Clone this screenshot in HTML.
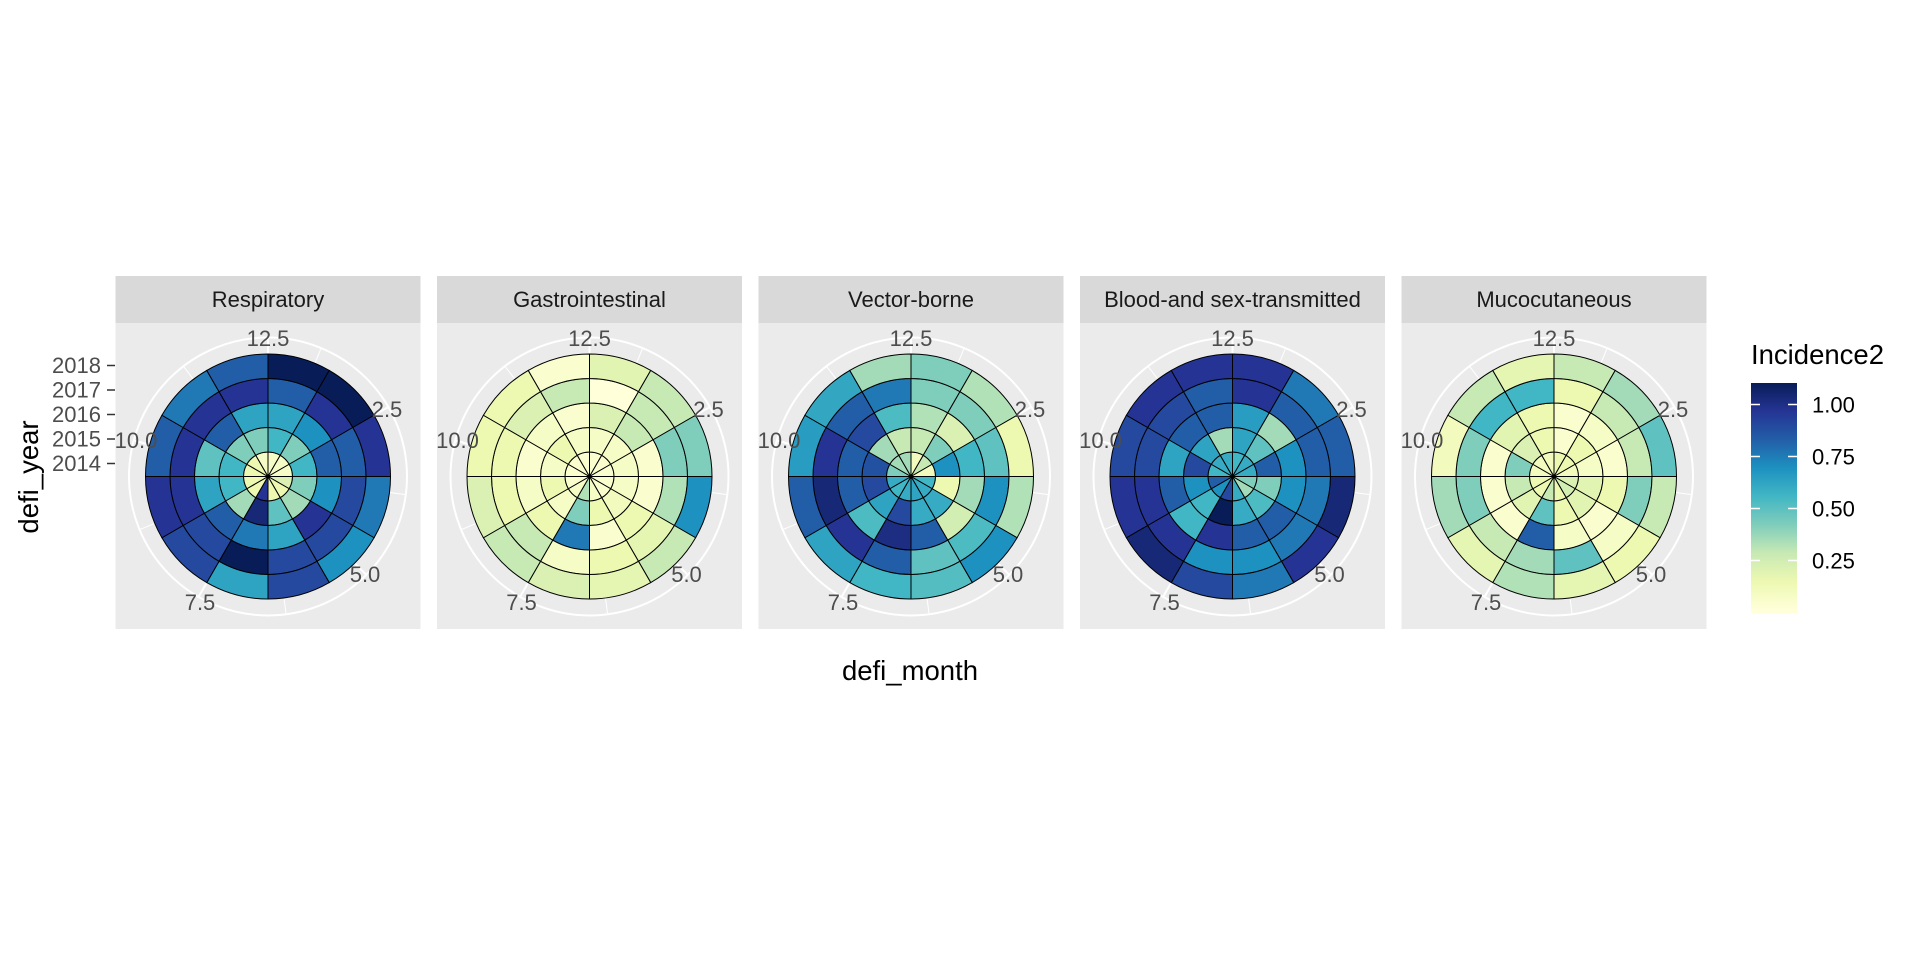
<!DOCTYPE html>
<html><head><meta charset="utf-8"><style>
html,body{margin:0;padding:0;background:#fff;}
svg{display:block;font-family:"Liberation Sans",Arial,sans-serif;}
</style></head><body>
<svg id="s" width="1920" height="960" viewBox="0 0 1920 960" xmlns="http://www.w3.org/2000/svg">
<rect width="1920" height="960" fill="#fff"/>
<g id="panels"></g>
<g font-size="22" fill="#1a1a1a" text-anchor="middle">
<text x="268" y="307">Respiratory</text>
<text x="589.5" y="307">Gastrointestinal</text>
<text x="911" y="307">Vector-borne</text>
<text x="1232.5" y="307">Blood-and sex-transmitted</text>
<text x="1554" y="307">Mucocutaneous</text>
</g>
<g id="thlabels" font-size="22" fill="#4d4d4d" text-anchor="middle"></g>
<g font-size="22" fill="#4d4d4d" text-anchor="end">
<text x="101" y="373">2018</text>
<text x="101" y="397.5">2017</text>
<text x="101" y="422">2016</text>
<text x="101" y="446.5">2015</text>
<text x="101" y="471">2014</text>
</g>
<g stroke="#333" stroke-width="1.5">
<line x1="107" x2="115" y1="365.5" y2="365.5"/><line x1="107" x2="115" y1="390" y2="390"/><line x1="107" x2="115" y1="414.5" y2="414.5"/><line x1="107" x2="115" y1="439" y2="439"/><line x1="107" x2="115" y1="463.5" y2="463.5"/>
</g>
<text x="0" y="0" font-size="27.5" fill="#000" text-anchor="middle" transform="translate(38,477) rotate(-90)">defi_year</text>
<text x="910" y="680" font-size="27.5" fill="#000" text-anchor="middle">defi_month</text>
<text x="1751" y="364" font-size="27.5" fill="#000">Incidence2</text>
<defs><linearGradient id="lg" x1="0" y1="1" x2="0" y2="0" id2="x"></linearGradient></defs>
<rect id="bar" x="1751" y="383" width="46" height="230" fill="url(#lg)"/>
<g stroke="#fff" stroke-width="1.5">
<line x1="1751" x2="1760" y1="404.5" y2="404.5"/><line x1="1788" x2="1797" y1="404.5" y2="404.5"/>
<line x1="1751" x2="1760" y1="456.5" y2="456.5"/><line x1="1788" x2="1797" y1="456.5" y2="456.5"/>
<line x1="1751" x2="1760" y1="508.5" y2="508.5"/><line x1="1788" x2="1797" y1="508.5" y2="508.5"/>
<line x1="1751" x2="1760" y1="560.5" y2="560.5"/><line x1="1788" x2="1797" y1="560.5" y2="560.5"/>
</g>
<g font-size="22" fill="#000">
<text x="1812" y="412.5">1.00</text>
<text x="1812" y="464.5">0.75</text>
<text x="1812" y="516.5">0.50</text>
<text x="1812" y="568.5">0.25</text>
</g>
</svg>
<script>
var pal=["#ffffd9","#edf8b1","#c7e9b4","#7fcdbb","#41b6c4","#1d91c0","#225ea8","#253494","#081d58"];
function h2r(h){return [parseInt(h.substr(1,2),16),parseInt(h.substr(3,2),16),parseInt(h.substr(5,2),16)];}
function col(i){if(i<0)i=0;if(i>8)i=8;var a=Math.floor(i),b=Math.min(8,a+1),t=i-a;var A=h2r(pal[a]),B=h2r(pal[b]);
return "rgb("+[0,1,2].map(function(k){return Math.round(A[k]+(B[k]-A[k])*t)}).join(",")+")";}
var D=[
[[0.5,4,4.5,6,8],[0.5,3,5,7,8],[0.5,4,6,6,7],[1.5,3,5,6.5,5.5],[1,2.5,7,6.5,5],[1,3.5,4.5,6.5,6.5],[7,7.5,5.5,8,4.5],[1,2.5,6,6.5,6.5],[1,4,4.5,7,7],[1,4,3.5,7,6],[1,3,6,7,5.5],[0.5,3,4.5,7,6]],
[[0.3,0.5,1.5,0,1.3],[0.3,0.5,2,2,2],[0.3,0.5,0.3,3,3],[0.3,0.5,0.3,2.3,5],[0.3,0.7,1,1.2,2],[0.5,1,0.3,1,1.2],[2.3,3,5.5,0.5,1.5],[0.5,0.5,1,2,2],[0.3,1,0.5,1,1.5],[0.3,0.5,0.3,1,1],[0.3,1,0.5,1.5,1],[0.3,0.5,0.3,2,0.3]],
[[0.7,2,2.3,3,3],[2,3,1.5,3,2.3],[0.7,5,4,3.5,1],[4,1,2.5,5,2.3],[4.3,4.3,1.7,3.8,5],[4.5,4.3,6,3.5,3.7],[4.3,6.5,7.3,6,4],[4,4.5,3.8,7,4.5],[4.3,6.5,6,7.5,6],[3,6.3,6,7,4.7],[2.5,2.5,6.5,6,4.4],[2.5,2,3.8,5.5,2.5]],
[[4,4.5,4.7,7,7],[4.3,3.5,2.5,6,5.5],[4.3,6,5,6,6],[3,3,5,5.5,7.5],[2.5,3.8,6,5.5,7],[4.3,4.3,6,5,5.5],[6.5,8.5,7,5,6.5],[5,4,4,7,7.5],[6,5,6,7,7],[4,6.5,4.5,6.5,6.5],[4.3,4.5,6,6.5,7],[4.3,2.5,6,6,7]],
[[1,0.3,0.3,1,2],[1,1,0.5,2,2.5],[0.7,0.5,0.3,2,3.5],[1.5,1.3,1,3,2],[1.7,1.3,0.3,0.5,1],[1,1,0.5,3.5,1.2],[2,3.5,6,2.5,2.3],[1,1.3,0.3,2,1.2],[1,2,0.3,3,2.5],[0.7,3,0.3,3,0.7],[0.7,1.5,1.3,4,2],[0.7,1,1,4,1.2]]
];
var NS="http://www.w3.org/2000/svg",g=document.getElementById("panels"),tl=document.getElementById("thlabels");
var cxs=[268,589.5,911,1232.5,1554],cy=476.5,R=122.5,rw=R/5,WR=139;
function P(cx,r,a){var t=a*Math.PI/180;return [cx+r*Math.sin(t),cy-r*Math.cos(t)];}
var out="";
for(var p=0;p<5;p++){var cx=cxs[p],x0=cx-152.5;
out+='<rect x="'+(x0)+'" y="276" width="305" height="47" fill="#d9d9d9"/>';
out+='<rect x="'+(x0)+'" y="323" width="305" height="306" fill="#ebebeb"/>';
out+='<circle cx="'+cx+'" cy="'+cy+'" r="'+WR+'" fill="none" stroke="#fff" stroke-width="2"/>';
for(var k=0;k<5;k++){[22.5,60].forEach(function(b){var a=b+75*k;var q=P(cx,WR,a);out+='<line x1="'+cx+'" y1="'+cy+'" x2="'+q[0].toFixed(2)+'" y2="'+q[1].toFixed(2)+'" stroke="#fff" stroke-width="'+(b==60?2:1)+'"/>';});}
for(var m=0;m<12;m++)for(var r=0;r<5;r++){var a0=m*30,a1=a0+30,r0=r*rw,r1=(r+1)*rw;
var A=P(cx,r1,a0),B=P(cx,r1,a1),C=P(cx,r0,a1),E=P(cx,r0,a0);
var d="M"+A[0].toFixed(2)+","+A[1].toFixed(2)+" A"+r1+","+r1+" 0 0 1 "+B[0].toFixed(2)+","+B[1].toFixed(2)+" L"+C[0].toFixed(2)+","+C[1].toFixed(2);
if(r0>0)d+=" A"+r0+","+r0+" 0 0 0 "+E[0].toFixed(2)+","+E[1].toFixed(2);
d+=" Z";
out+='<path d="'+d+'" fill="'+col(D[p][m][r])+'" stroke="#000" stroke-width="1"/>';}
}
g.innerHTML=out;
// theta label positions
var labs=["2.5","5.0","7.5","10.0","12.5"],angs=[60,135,210,285,360],tls=tl.querySelectorAll("text");
// gradient
var lg=document.getElementById("lg");var s="";
for(var i=0;i<=8;i++){s+='<stop offset="'+(0.014+i/8*(1.10-0.014)/1.1*1).toFixed(3)+'" stop-color="'+pal[i]+'"/>';}
lg.innerHTML=s;
</script>
<svg width="0" height="0" style="position:absolute"></svg>
<div style="position:absolute;left:0;top:0;width:1920px;height:960px;pointer-events:none">
<svg width="1920" height="960" style="position:absolute;left:0;top:0" font-family="Liberation Sans, sans-serif" font-size="22" fill="#4d4d4d" text-anchor="middle">
<text x="268" y="346">12.5</text><text x="387" y="417">2.5</text><text x="365" y="582">5.0</text><text x="200" y="610">7.5</text><text x="136" y="448">10.0</text>
<text x="589.5" y="346">12.5</text><text x="708.5" y="417">2.5</text><text x="686.5" y="582">5.0</text><text x="521.5" y="610">7.5</text><text x="457.5" y="448">10.0</text>
<text x="911" y="346">12.5</text><text x="1030" y="417">2.5</text><text x="1008" y="582">5.0</text><text x="843" y="610">7.5</text><text x="779" y="448">10.0</text>
<text x="1232.5" y="346">12.5</text><text x="1351.5" y="417">2.5</text><text x="1329.5" y="582">5.0</text><text x="1164.5" y="610">7.5</text><text x="1100.5" y="448">10.0</text>
<text x="1554" y="346">12.5</text><text x="1673" y="417">2.5</text><text x="1651" y="582">5.0</text><text x="1486" y="610">7.5</text><text x="1422" y="448">10.0</text>
</svg></div>
</body></html>
